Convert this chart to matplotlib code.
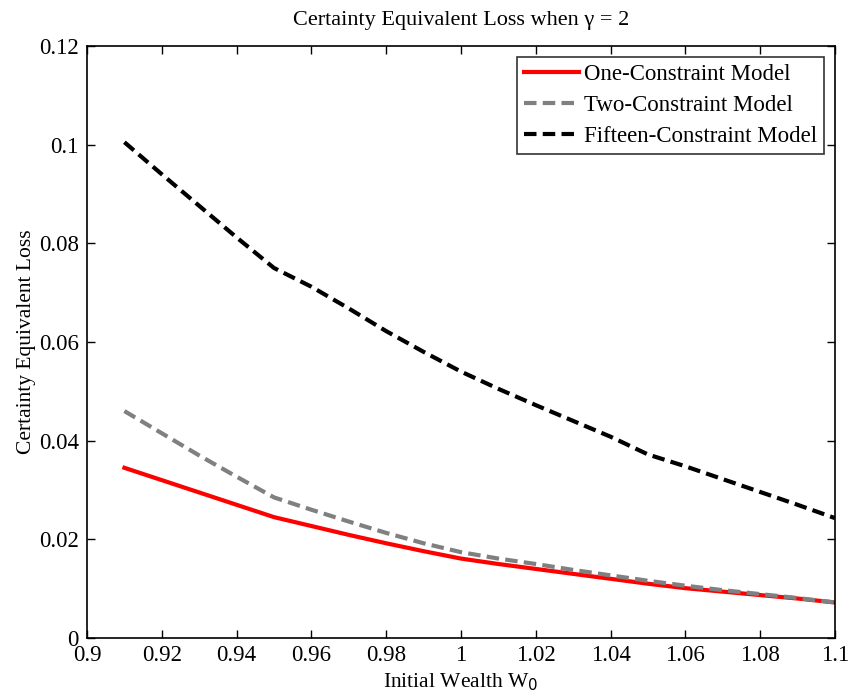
import matplotlib
matplotlib.use("Agg")
import matplotlib.pyplot as plt

x = [0.91, 0.92, 0.93, 0.94, 0.95, 0.96, 0.97, 0.98, 0.99, 1.00,
     1.01, 1.02, 1.03, 1.04, 1.05, 1.06, 1.07, 1.08, 1.09, 1.10]
one = [0.0345, 0.0320, 0.0295, 0.0270, 0.0245, 0.0227, 0.0209, 0.0192, 0.0176, 0.0161,
       0.0150, 0.0140, 0.0130, 0.0120, 0.0110, 0.0101, 0.0094, 0.0087, 0.0080, 0.0072]
two = [0.0460, 0.0415, 0.0370, 0.0327, 0.0285, 0.0260, 0.0236, 0.0213, 0.0192, 0.0174,
       0.0161, 0.0150, 0.0138, 0.0127, 0.0116, 0.0106, 0.0097, 0.0089, 0.0081, 0.0072]
fifteen = [0.1005, 0.0940, 0.0876, 0.0812, 0.0750, 0.0712, 0.0668, 0.0622, 0.0580, 0.0540,
           0.0505, 0.0472, 0.0440, 0.0408, 0.0372, 0.0348, 0.0322, 0.0296, 0.0270, 0.0243]
labels = ["One-Constraint Model", "Two-Constraint Model", "Fifteen-Constraint Model"]
xticks = [0.9, 0.92, 0.94, 0.96, 0.98, 1.0, 1.02, 1.04, 1.06, 1.08, 1.1]
xticklabels = ["0.9", "0.92", "0.94", "0.96", "0.98", "1", "1.02", "1.04", "1.06", "1.08", "1.1"]
yticks = [0, 0.02, 0.04, 0.06, 0.08, 0.1, 0.12]
yticklabels = ["0", "0.02", "0.04", "0.06", "0.08", "0.1", "0.12"]

plt.rcParams['font.family'] = ['Liberation Serif', 'DejaVu Serif']
fig = plt.figure(figsize=(8.5, 6.98), dpi=100)
ax = fig.add_axes([87/850, 60/698, 748/850, 592/698])

ax.plot(x, one, color='#ff0000', lw=3, ls='-', label=labels[0])
ax.plot(x, two, color='#808080', lw=3, ls=(0, (3, 1.5)), label=labels[1])
ax.plot(x, fifteen, color='#000000', lw=3, ls=(0, (3, 1.5)), label=labels[2])

ax.set_xlim(0.9, 1.1)
ax.set_ylim(0, 0.12)
ax.set_xticks(xticks)
ax.set_xticklabels(xticklabels)
ax.set_yticks(yticks)
ax.set_yticklabels(yticklabels)
ax.tick_params(direction='in', top=True, right=True, labelsize=16.5, length=6, width=1)
ax.tick_params(axis='x', pad=5)
ax.tick_params(axis='y', pad=6)
for s in ax.spines.values():
    s.set_linewidth(1.2)

ax.set_title("Certainty Equivalent Loss when γ = 2", fontsize=16, pad=15)
ax.set_xlabel("Initial Wealth W$_0$", fontsize=15.5, labelpad=4)
ax.set_ylabel("Certainty Equivalent Loss", fontsize=15.5, labelpad=2)

leg = ax.legend(loc='upper right', fontsize=16.5, frameon=True, fancybox=False,
                edgecolor='black', handlelength=2.4, borderpad=0.3, labelspacing=0.42,
                handletextpad=0.2, borderaxespad=0.5)
leg.get_frame().set_linewidth(1.2)

fig.savefig("out.png", dpi=100, facecolor='white')
